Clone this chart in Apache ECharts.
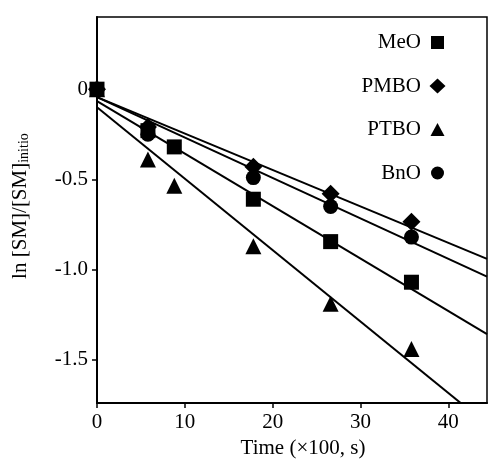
<!DOCTYPE html>
<html>
<head>
<meta charset="utf-8">
<script src="https://cdn.jsdelivr.net/npm/echarts@6/dist/echarts.min.js"></script>
<style>html,body{margin:0;padding:0;background:#fff;}#c{width:489px;height:464px;}</style>
</head>
<body>
<div id="c"></div>
<script>
var times = [0, 5.8, 8.8, 17.8, 26.6, 35.8];
var seriesNames = ['MeO', 'PMBO', 'PTBO', 'BnO'];
var meo  = [0, -0.23, -0.32, -0.61, -0.845, -1.07];
var pmbo = [0, -0.21, null, -0.43, -0.58, -0.735];
var ptbo = [0, -0.39, -0.535, -0.87, -1.19, -1.44];
var bno  = [0, -0.25, null, -0.49, -0.65, -0.82];
var fitIntercept = [-0.066, -0.044, -0.10, -0.044];
var fitSlope = [-0.0291, -0.0202, -0.0396, -0.0224];
var xTicks = [0, 10, 20, 30, 40];
var yTicks = [-1.5, -1.0, -0.5, 0];
var xMin = 0, xMax = 44.4, yMin = -1.74, yMax = 0.40;

var symbols = ['rect', 'diamond', 'triangle', 'circle'];
var symSizes = [15, 18, 16, 15];
var legendIcons = [
  'path://M0,0M17,17M2,2L15,2L15,15L2,15z',
  'path://M0,0M17,17M8.5,1L16.5,8.5L8.5,16L0.5,8.5z',
  'path://M0,0M17,17M8.5,2L15.5,15L1.5,15z',
  'path://M0,0M17,17M15,8.5A6.5,6.5,0,1,1,2,8.5A6.5,6.5,0,1,1,15,8.5z'
];
var values = [meo, pmbo, ptbo, bno];
var font = "'Liberation Serif', 'Times New Roman', serif";

var series = [];
for (var i = 0; i < 4; i++) {
  var b = fitIntercept[i], m = fitSlope[i];
  series.push({
    name: seriesNames[i] + ' fit', type: 'line', symbol: 'none', silent: true,
    data: [[xMin, b + m * xMin], [xMax, b + m * xMax]],
    lineStyle: {color: '#000', width: 2}, z: 2, clip: true
  });
}
for (var i = 0; i < 4; i++) {
  var d = [];
  for (var j = 0; j < times.length; j++) if (values[i][j] !== null) d.push([times[j], values[i][j]]);
  series.push({
    name: seriesNames[i], type: 'scatter', symbol: symbols[i], symbolSize: symSizes[i],
    data: d, itemStyle: {color: '#000', opacity: 1}, z: 5, clip: false
  });
}

var legendData = [];
for (var i = 0; i < 4; i++) {
  legendData.push({name: seriesNames[i], icon: legendIcons[i], itemStyle: {color: '#000', opacity: 1}});
}

var chart = echarts.init(document.getElementById('c'));
chart.setOption({
  animation: false,
  backgroundColor: '#fff',
  textStyle: {fontFamily: font, color: '#000'},
  grid: {left: 97, right: 2, top: 17, bottom: 59, show: true, borderColor: '#000', borderWidth: 1.5},
  legend: {
    data: legendData,
    orient: 'vertical', align: 'right', right: 38, top: 27,
    itemWidth: 17, itemHeight: 17, itemGap: 22.5,
    textStyle: {fontFamily: font, fontSize: 21, color: '#000', padding: [0, 3, 0, 0]},
    selectedMode: false
  },
  xAxis: {
    type: 'value', min: xMin, max: xMax,
    name: 'Time (×100, s)', nameLocation: 'middle', nameGap: 31,
    nameTextStyle: {fontFamily: font, fontSize: 21, color: '#000', padding: [0, 0, 0, 22]},
    axisLine: {show: true, onZero: false, lineStyle: {color: '#000', width: 2}},
    axisTick: {show: true, length: 5, inside: false, lineStyle: {color: '#000', width: 1.5}, customValues: xTicks},
    axisLabel: {fontFamily: font, fontSize: 21, color: '#000', margin: 9, customValues: xTicks},
    splitLine: {show: false}
  },
  yAxis: {
    type: 'value', min: yMin, max: yMax,
    name: '{a|ln [SM]/[SM]}{b|initio}', nameLocation: 'middle', nameRotate: 90, nameGap: 66,
    nameTextStyle: {
      fontFamily: font, color: '#000', padding: [0, 0, 0, 8],
      rich: {
        a: {fontFamily: font, fontSize: 21, color: '#000', lineHeight: 21, verticalAlign: 'top'},
        b: {fontFamily: font, fontSize: 14, color: '#000', lineHeight: 14, padding: [9, 0, 0, 0], verticalAlign: 'bottom'}
      }
    },
    axisLine: {show: true, onZero: false, lineStyle: {color: '#000', width: 2}},
    axisTick: {show: true, length: 5, inside: false, lineStyle: {color: '#000', width: 1.5}, customValues: yTicks},
    axisLabel: {
      fontFamily: font, fontSize: 21, color: '#000', margin: 9, customValues: yTicks,
      formatter: function (v) { return v === 0 ? '0' : v.toFixed(1); }
    },
    splitLine: {show: false}
  },
  series: series
});
</script>
</body>
</html>
